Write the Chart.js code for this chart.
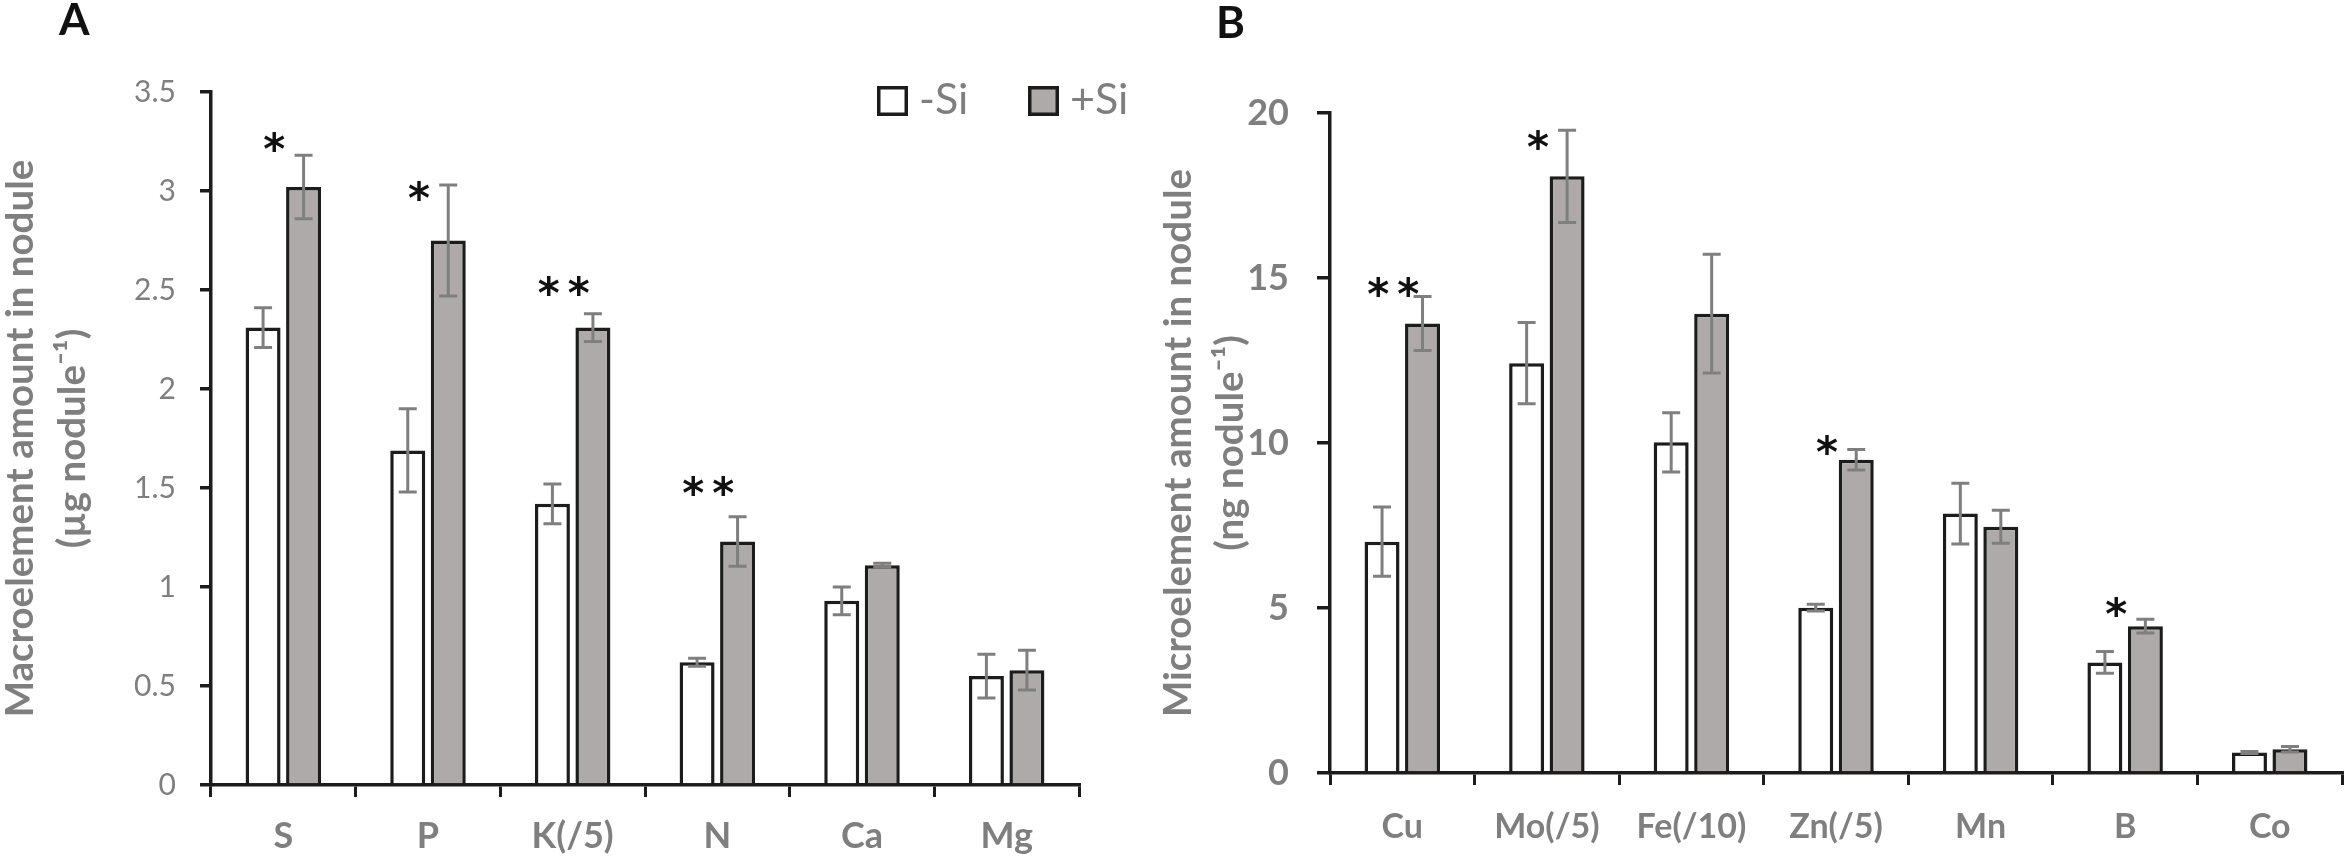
<!DOCTYPE html>
<html>
<head>
<meta charset="utf-8">
<script src="https://cdn.jsdelivr.net/npm/chart.js@4.4.1/dist/chart.umd.min.js"></script>
<style>
  body { margin: 0; background: #fff; width: 2349px; height: 861px; overflow: hidden; position: relative; }
  canvas { position: absolute; top: 0; }
  #macro { left: 0; }
  #micro { left: 1140px; }
</style>
</head>
<body>
<canvas id="macro" width="1140" height="861"></canvas>
<canvas id="micro" width="1209" height="861"></canvas>
<script>
// panel A - macroelements (µg per nodule)
const macroLabels = ['S', 'P', 'K(/5)', 'N', 'Ca', 'Mg'];
const macroMinus = [2.31, 1.69, 1.42, 0.62, 0.93, 0.55];
const macroMinusErr = [0.10, 0.21, 0.10, 0.02, 0.07, 0.11];
const macroPlus = [3.02, 2.75, 2.31, 1.23, 1.11, 0.58];
const macroPlusErr = [0.16, 0.28, 0.07, 0.125, 0.01, 0.10];
const macroStars = ['*', '*', '**', '**', '', ''];
const macroStarLevel = [3.25, 3.0, 2.52, 1.51, null, null];
const macroTicks = ['0', '0.5', '1', '1.5', '2', '2.5', '3', '3.5'];

// panel B - microelements (ng per nodule)
const microLabels = ['Cu', 'Mo(/5)', 'Fe(/10)', 'Zn(/5)', 'Mn', 'B', 'Co'];
const microMinus = [7.01, 12.42, 10.02, 5.01, 7.86, 3.35, 0.62];
const microMinusErr = [1.05, 1.23, 0.90, 0.10, 0.92, 0.33, 0.03];
const microPlus = [13.62, 18.08, 13.92, 9.49, 7.46, 4.45, 0.72];
const microPlusErr = [0.82, 1.40, 1.80, 0.31, 0.50, 0.21, 0.08];
const microStars = ['**', '*', '', '*', '', '*', ''];
const microStarLevel = [14.74, 19.19, null, 9.95, null, 5.03, null];
const microTicks = ['0', '5', '10', '15', '20'];

const seriesNames = ['-Si', '+Si'];

const GREY_TXT = '#7f7f7f';
const AXIS = '#1c1c1c';
const FILL_PLUS = '#aeaaaa';
const FONT = 'Lato, "Noto Sans", sans-serif';

Chart.defaults.font.family = FONT;
Chart.defaults.color = GREY_TXT;

const errorBars = {
  id: 'errorBars',
  afterDatasetsDraw(chart, args, opts) {
    const ctx = chart.ctx;
    const y = chart.scales.y;
    ctx.save();
    ctx.strokeStyle = opts.color;
    ctx.lineWidth = opts.width;
    chart.data.datasets.forEach((ds, i) => {
      chart.getDatasetMeta(i).data.forEach((bar, j) => {
        const top = y.getPixelForValue(ds.data[j] + ds.errors[j]);
        const bot = y.getPixelForValue(ds.data[j] - ds.errors[j]);
        ctx.beginPath();
        ctx.moveTo(bar.x, top); ctx.lineTo(bar.x, bot);
        ctx.moveTo(bar.x - opts.cap, top); ctx.lineTo(bar.x + opts.cap, top);
        ctx.moveTo(bar.x - opts.cap, bot); ctx.lineTo(bar.x + opts.cap, bot);
        ctx.stroke();
      });
    });
    ctx.restore();
  }
};

const stars = {
  id: 'stars',
  afterDatasetsDraw(chart, args, opts) {
    const ctx = chart.ctx;
    const x = chart.scales.x, y = chart.scales.y;
    ctx.save();
    ctx.fillStyle = '#111';
    ctx.font = opts.font;
    ctx.textAlign = 'center';
    ctx.textBaseline = 'alphabetic';
    const m = ctx.measureText('*');
    const mid = (m.actualBoundingBoxAscent - m.actualBoundingBoxDescent) / 2;
    opts.marks.forEach((s, j) => {
      if (!s) return;
      const cx = x.getPixelForValue(j) + opts.dx;
      const cy = y.getPixelForValue(opts.levels[j]) + mid;
      for (let k = 0; k < s.length; k++) {
        ctx.fillText('*', cx + (k - (s.length - 1) / 2) * opts.gap, cy);
      }
    });
    ctx.restore();
  }
};

const panelLetter = {
  id: 'panelLetter',
  afterDraw(chart, args, opts) {
    const ctx = chart.ctx;
    ctx.save();
    ctx.fillStyle = '#111';
    ctx.font = 'bold 44px ' + FONT;
    ctx.textBaseline = 'alphabetic';
    ctx.fillText(opts.text, opts.x, opts.y);
    ctx.restore();
  }
};

const boxLegend = {
  id: 'boxLegend',
  afterDraw(chart, args, opts) {
    if (!opts.display) return;
    const ctx = chart.ctx;
    const area = chart.chartArea;
    ctx.save();
    ctx.font = '43px ' + FONT;
    ctx.textBaseline = 'middle';
    let px = area.right - 202;
    const cy = area.top + 9;
    chart.data.datasets.forEach((ds, i) => {
      ctx.fillStyle = ds.backgroundColor;
      ctx.fillRect(px, cy - 15, 31, 30);
      ctx.strokeStyle = ds.borderColor;
      ctx.lineWidth = 3.5;
      ctx.strokeRect(px + 1.75, cy - 13.25, 27.5, 26.5);
      ctx.fillStyle = GREY_TXT;
      ctx.fillText(ds.label, px + 42, cy - 1);
      px += 151;
    });
    ctx.restore();
  }
};

function makeChart(id, cfg) {
  return new Chart(document.getElementById(id), {
    type: 'bar',
    data: {
      labels: cfg.labels,
      datasets: [{
        label: seriesNames[0],
        data: cfg.minus,
        errors: cfg.minusErr,
        backgroundColor: '#ffffff',
        borderColor: AXIS,
        borderWidth: 3.5,
        categoryPercentage: 0.56,
        barPercentage: 0.864
      }, {
        label: seriesNames[1],
        data: cfg.plus,
        errors: cfg.plusErr,
        backgroundColor: FILL_PLUS,
        borderColor: AXIS,
        borderWidth: 3.5,
        categoryPercentage: 0.56,
        barPercentage: 0.864
      }]
    },
    plugins: [errorBars, stars, panelLetter, boxLegend],
    options: {
      responsive: false,
      animation: false,
      devicePixelRatio: 1,
      layout: { padding: cfg.padding },
      plugins: {
        legend: { display: false },
        tooltip: { enabled: false },
        errorBars: { color: GREY_TXT, width: 3, cap: 9 },
        stars: { marks: cfg.stars, levels: cfg.starLevel, dx: -9, gap: 30, font: 'bold 42px "DejaVu Sans", sans-serif' },
        panelLetter: cfg.letter,
        boxLegend: { display: cfg.legend }
      },
      scales: {
        x: {
          afterFit(scale) { scale.height = cfg.xHeight; },
          border: { color: AXIS, width: 3.5 },
          grid: { offset: true, drawOnChartArea: false, drawTicks: true, tickLength: 12, lineWidth: 3, color: AXIS },
          ticks: { color: GREY_TXT, padding: cfg.xPad, font: { size: cfg.xFont, weight: 'bold' } }
        },
        y: {
          min: 0,
          max: cfg.max,
          afterFit(scale) { scale.width = cfg.yWidth; },
          border: { color: AXIS, width: 3.5 },
          grid: { drawOnChartArea: false, drawTicks: true, tickLength: cfg.yTick, lineWidth: 3.5, color: AXIS },
          ticks: {
            stepSize: cfg.step,
            color: GREY_TXT,
            padding: cfg.yPad,
            font: cfg.yFont,
            callback: (v, i) => cfg.ticks[i]
          },
          title: {
            display: true,
            text: cfg.title,
            color: GREY_TXT,
            padding: { top: cfg.titlePad, bottom: 0 },
            font: { size: 38.5, weight: 'bold', lineHeight: 1.36 }
          }
        }
      }
    }
  });
}

makeChart('macro', {
  labels: macroLabels, minus: macroMinus, minusErr: macroMinusErr,
  plus: macroPlus, plusErr: macroPlusErr,
  stars: macroStars, starLevel: macroStarLevel, ticks: macroTicks,
  max: 3.5, step: 0.5,
  padding: { left: 0, right: 61, top: 92, bottom: 0 },
  yWidth: 211, xHeight: 76, yTick: 11, yPad: 24, xPad: 18, xFont: 36,
  yFont: { size: 30 },
  title: ['Macroelement amount in nodule', '(µg nodule⁻¹)'], titlePad: -6,
  letter: { text: 'A', x: 59, y: 35 },
  legend: true
});

makeChart('micro', {
  labels: microLabels, minus: microMinus, minusErr: microMinusErr,
  plus: microPlus, plusErr: microPlusErr,
  stars: microStars, starLevel: microStarLevel, ticks: microTicks,
  max: 20, step: 5,
  padding: { left: 0, right: 7, top: 113, bottom: 0 },
  yWidth: 190, xHeight: 88, yTick: 13, yPad: 28, xPad: 22, xFont: 34,
  yFont: { size: 36, weight: 'bold' },
  title: ['Microelement amount in nodule', '(ng nodule⁻¹)'], titlePad: 12,
  letter: { text: 'B', x: 76, y: 38 },
  legend: false
});
</script>
</body>
</html>
